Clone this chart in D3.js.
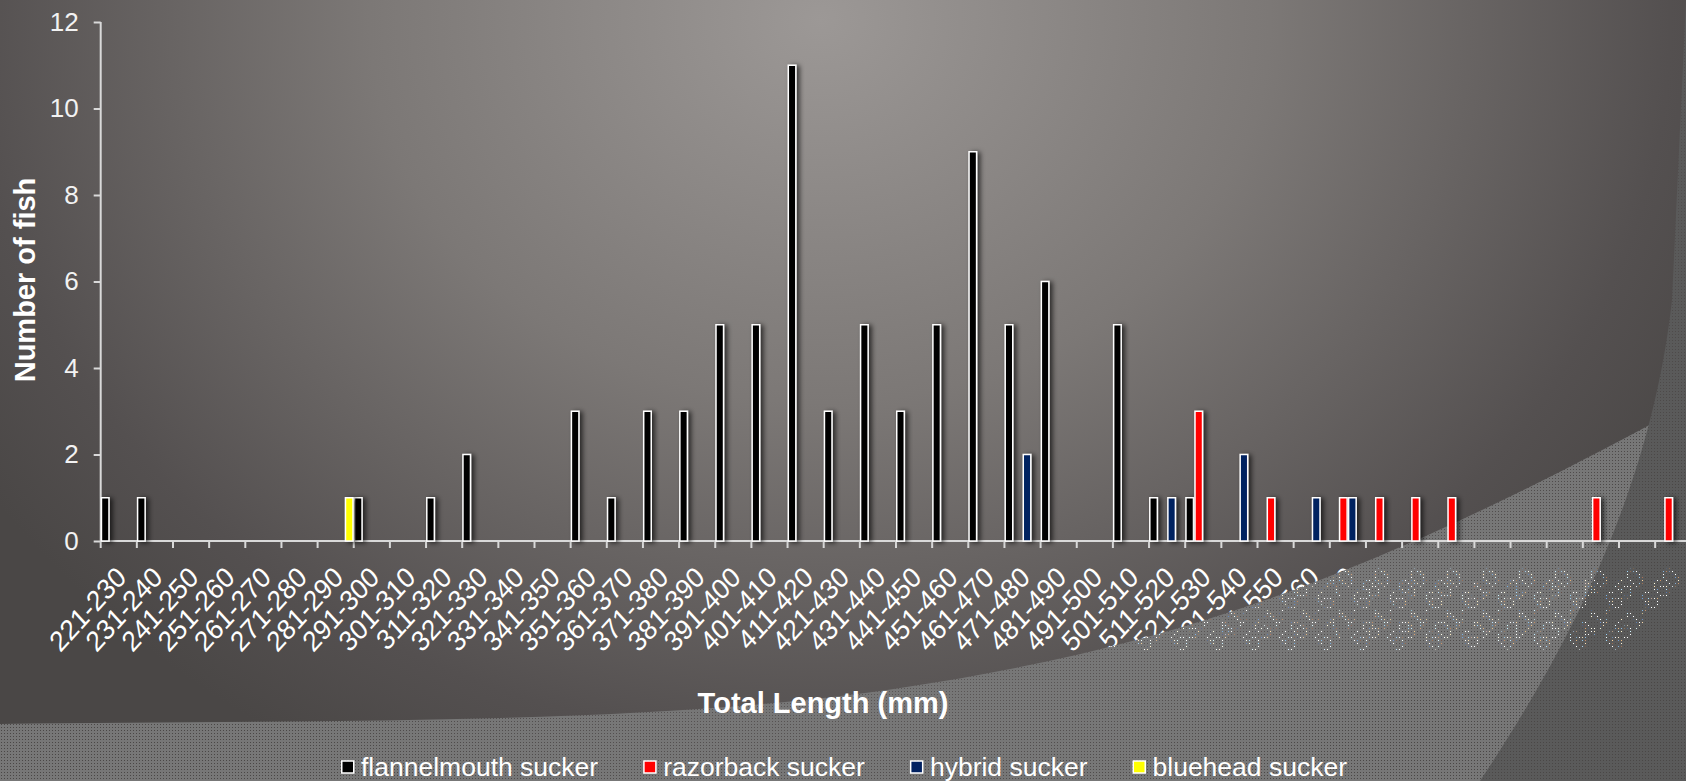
<!DOCTYPE html>
<html>
<head>
<meta charset="utf-8">
<script src="https://cdn.jsdelivr.net/npm/d3@7"></script>
<style>
  html, body { margin: 0; padding: 0; overflow: hidden; background: #4c4947; }
  svg { display: block; font-family: Arial, "Liberation Sans", sans-serif; }
</style>
</head>
<body>
<svg class="chart" width="1686" height="781"></svg>
<script>
var categories = ["221-230","231-240","241-250","251-260","261-270","271-280","281-290","291-300",
  "301-310","311-320","321-330","331-340","341-350","351-360","361-370","371-380","381-390",
  "391-400","401-410","411-420","421-430","431-440","441-450","451-460","461-470","471-480",
  "481-490","491-500","501-510","511-520","521-530","531-540","541-550","551-560","561-570",
  "571-580","581-590","591-600","601-610","611-620","621-630","631-640","641-650","651-660"];

var flannelmouth = [1,1,0,0,0,0,0,1,0,1,2,0,0,3,1,3,3,5,5,11,3,5,3,5,9,5,6,0,5,1,1,0,0,0,0,0,0,0,0,0,0,0,0,0];
var razorback    = [0,0,0,0,0,0,0,0,0,0,0,0,0,0,0,0,0,0,0,0,0,0,0,0,0,0,0,0,0,0,3,0,1,0,1,1,1,1,0,0,0,1,0,1];
var hybrid       = [0,0,0,0,0,0,0,0,0,0,0,0,0,0,0,0,0,0,0,0,0,0,0,0,0,2,0,0,0,1,0,2,0,1,1,0,0,0,0,0,0,0,0,0];
var bluehead     = [0,0,0,0,0,0,1,0,0,0,0,0,0,0,0,0,0,0,0,0,0,0,0,0,0,0,0,0,0,0,0,0,0,0,0,0,0,0,0,0,0,0,0,0];

var seriesNames = ["flannelmouth sucker","razorback sucker","hybrid sucker","bluehead sucker"];
var seriesColors = ["#000000","#ff0000","#002060","#ffff00"];
var yTicks = [0,2,4,6,8,10,12];

var WIDTH = 1686, HEIGHT = 781;
var svg = d3.select(".chart");
var defs = svg.append("defs");

// background glow
var bg = defs.append("radialGradient").attr("id","bgGrad")
  .attr("gradientUnits","userSpaceOnUse")
  .attr("cx",820).attr("cy",20).attr("r",1000)
  .attr("gradientTransform","translate(820,20) scale(1,0.85) translate(-820,-20)");
bg.append("stop").attr("offset","0").attr("stop-color","#9c9896");
bg.append("stop").attr("offset","0.45").attr("stop-color","#7c7876");
bg.append("stop").attr("offset","0.85").attr("stop-color","#545050");
bg.append("stop").attr("offset","1").attr("stop-color","#4a4746");

// dotted texture (holes let what is under show through as dots)
var makePattern = function(id, color){
  var p = defs.append("pattern").attr("id",id)
    .attr("patternUnits","userSpaceOnUse").attr("width",3).attr("height",3);
  p.append("path").attr("d","M0,0h3v3h-3z M1,1v1h1v-1z")
    .attr("fill",color).attr("fill-rule","evenodd");
};
makePattern("bandPat","#777777");
makePattern("darkPat","#5a5a5a");

var shadow = defs.append("filter").attr("id","barShadow")
  .attr("x","-60%").attr("y","-20%").attr("width","280%").attr("height","140%");
shadow.append("feDropShadow").attr("dx",3).attr("dy",1).attr("stdDeviation",2.5)
  .attr("flood-color","#000").attr("flood-opacity",0.65);

svg.append("rect").attr("width",WIDTH).attr("height",HEIGHT).attr("fill","url(#bgGrad)");

var MARGIN = {left: 100.7, top: 22, bottom: 541};
var xScale = d3.scaleBand()
  .domain(categories)
  .range([MARGIN.left, MARGIN.left + 36.15 * categories.length])
  .paddingInner(0).paddingOuter(0);

var xSub = d3.scaleBand()
  .domain(seriesNames)
  .range([0, xScale.bandwidth()])
  .padding(0);

var yScale = d3.scaleLinear()
  .domain([0,12])
  .range([MARGIN.bottom, MARGIN.top]);

// category labels (drawn under the decorative band)
svg.append("g").selectAll("text")
  .data(categories)
  .enter().append("text")
  .attr("transform", function(d){
    return "translate(" + (xScale(d) + xScale.bandwidth()/2 + 9) + "," + 579 + ") scale(1,1.1) rotate(-45)";
  })
  .attr("text-anchor","end")
  .attr("fill","#ffffff")
  .style("font-size","26px")
  .text(function(d){ return d; });

// decorative band and right-hand swoosh
svg.append("path")
  .attr("d","M0,724 C300,720 650,726 900,688 C1150,650 1350,590 1686,405 L1686,781 L0,781 Z")
  .attr("fill","url(#bandPat)");
svg.append("path")
  .attr("d","M1480,781 C1560,660 1650,500 1672,300 L1686,0 L1686,781 Z")
  .attr("fill","url(#darkPat)");

// axes
var axisColor = "#d9d9d9";
var yAxis = d3.axisLeft(yScale).tickValues(yTicks).tickSize(7).tickPadding(15);
var yG = svg.append("g").attr("transform","translate(" + MARGIN.left + ",0)").call(yAxis);
yG.select(".domain").attr("stroke",axisColor).attr("stroke-width",2).attr("d","M0," + MARGIN.top + "V" + MARGIN.bottom);
yG.selectAll(".tick line").attr("stroke",axisColor).attr("stroke-width",2);
yG.selectAll(".tick text").attr("fill","#f2f2f2").style("font-size","26px")
  .style("font-family","Arial, 'Liberation Sans', sans-serif");

var boundaries = categories.map(function(d){ return xScale(d); });
boundaries.push(xScale.range()[1]);
var xG = svg.append("g");
xG.append("line")
  .attr("x1",MARGIN.left).attr("x2",xScale.range()[1])
  .attr("y1",yScale(0)).attr("y2",yScale(0))
  .attr("stroke",axisColor).attr("stroke-width",2);
xG.selectAll("line.tk").data(boundaries).enter().append("line")
  .attr("class","tk")
  .attr("x1",function(d){ return d; }).attr("x2",function(d){ return d; })
  .attr("y1",yScale(0)).attr("y2",yScale(0) + 7)
  .attr("stroke",axisColor).attr("stroke-width",2);

// bars
var allSeries = [flannelmouth, razorback, hybrid, bluehead];
var barData = [];
allSeries.forEach(function(values, s){
  values.forEach(function(v, i){
    if (v > 0) barData.push({cat: categories[i], series: seriesNames[s], color: seriesColors[s], value: v});
  });
});

svg.append("g").selectAll("rect")
  .data(barData)
  .enter().append("rect")
  .attr("x", function(d){ return xScale(d.cat) + xSub(d.series) + 0.75; })
  .attr("width", xSub.bandwidth() - 1.5)
  .attr("y", function(d){ return yScale(d.value); })
  .attr("height", function(d){ return yScale(0) - yScale(d.value); })
  .attr("fill", function(d){ return d.color; })
  .attr("stroke","#ffffff")
  .attr("stroke-width",1.5)
  .attr("filter","url(#barShadow)");

// titles
svg.append("text")
  .attr("transform","translate(35,280) rotate(-90)")
  .attr("text-anchor","middle")
  .attr("fill","#ffffff")
  .style("font-size","29px").style("font-weight","bold")
  .text("Number of fish");

svg.append("text")
  .attr("x",823).attr("y",713)
  .attr("text-anchor","middle")
  .attr("fill","#ffffff")
  .style("font-size","29px").style("font-weight","bold")
  .text("Total Length (mm)");

// legend
var legend = svg.append("g");
var lx = 341;
seriesNames.forEach(function(name, i){
  var item = legend.append("g").attr("transform","translate(" + lx + ",0)");
  item.append("rect")
    .attr("x",0.75).attr("y",761).attr("width",12).attr("height",12)
    .attr("fill",seriesColors[i]).attr("stroke","#ffffff").attr("stroke-width",1.5);
  var t = item.append("text")
    .attr("x",20).attr("y",776)
    .attr("fill","#ffffff")
    .style("font-size","26.5px")
    .text(name);
  lx += 20 + t.node().getComputedTextLength() + 45;
});
</script>
</body>
</html>
